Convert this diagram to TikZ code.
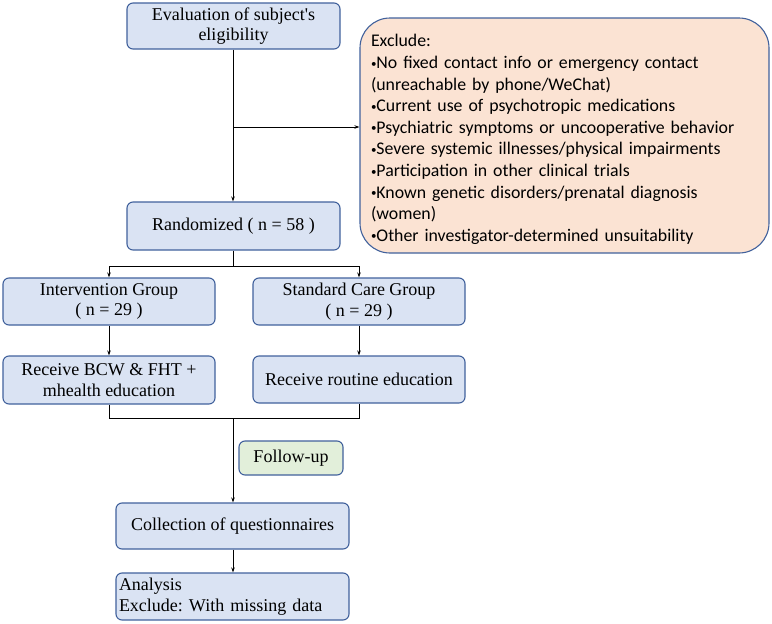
\documentclass[tikz,border=0pt]{standalone}
\usepackage{fontspec}
\setmainfont{Liberation Serif}
\newfontfamily\calfont{Carlito}
\usetikzlibrary{arrows.meta}
\definecolor{bluefill}{HTML}{DAE3F3}
\definecolor{bluedraw}{HTML}{41619C}
\definecolor{peach}{HTML}{FBE3D3}
\definecolor{greenfill}{HTML}{E2EFDA}
\newcommand{\bul}{{\fontsize{11}{11}\selectfont\raisebox{1.5pt}{•}}}
\frenchspacing
\tikzset{
  box/.style={draw=bluedraw, line width=1.1pt, fill=bluefill, rounded corners=6pt,
    inner sep=0pt, align=center, font=\fontsize{18}{20.5}\selectfont, text=black},
  arr/.style={line width=0.9pt, -{Stealth[length=5pt,width=3.5pt]}},
  ln/.style={line width=0.9pt},
}
\begin{document}
\begin{tikzpicture}[x=1pt,y=-1pt]
\useasboundingbox (0,0) rectangle (772,624);
\node[box, minimum width=213pt, minimum height=46pt] (eval) at (233.5,26) {Evaluation of subject\textquotesingle s\\eligibility};
\node[box, fill=peach, rounded corners=30pt, minimum width=409pt, minimum height=235pt] (excl) at (564.5,135.5) {};
\node[text width=392pt, align=left, inner sep=0pt, font=\calfont\fontsize{17.8}{21.6}\selectfont] (excltext) at (567,139.5)
  {\frenchspacing Exclude:\\
  \bul No fixed contact info or emergency contact\\
  (unreachable by phone/WeChat)\\
  \bul Current use of psychotropic medications\\
  \bul Psychiatric symptoms or uncooperative behavior\\
  \bul Severe systemic illnesses/physical impairments\\
  \bul Participation in other clinical trials\\
  \bul Known genetic disorders/prenatal diagnosis\\
  (women)\\
  \bul Other investigator-determined unsuitability};
\node[box, minimum width=213pt, minimum height=48pt] (rand) at (233.5,226) {Randomized ( n = 58 )};
\node[box, minimum width=212pt, minimum height=47pt] (int) at (109,301.5) {Intervention Group\\( n = 29 )};
\node[box, minimum width=212pt, minimum height=47pt] (std) at (359,301.5) {Standard Care Group\\( n = 29 )};
\node[box, minimum width=212pt, minimum height=48pt] (bcw) at (109,380) {Receive BCW \& FHT +\\mhealth education};
\node[box, minimum width=212pt, minimum height=47pt] (rout) at (359,379.5) {Receive routine education};
\node[box, fill=greenfill, minimum width=104pt, minimum height=34pt] (fu) at (291,458) {Follow-up};
\node[box, minimum width=233pt, minimum height=46pt] (coll) at (232.5,526) {Collection of questionnaires};
\node[box, minimum width=233pt, minimum height=47pt, text width=227pt, align=left] (ana) at (232.5,596.5) {\frenchspacing Analysis\\Exclude: With missing data};

\coordinate (b1) at (233,127);
\coordinate (b2) at (233,266);
\coordinate (b3) at (233,418);
\draw[arr] (eval.south -| b1) -- (rand.north -| b1);
\draw[arr] (b1) -- (b1 -| excl.west);
\draw[ln] (rand.south -| b2) -- (b2);
\draw[arr] (b2) -| (int.north);
\draw[arr] (b2) -| (std.north);
\draw[arr] (int) -- (bcw);
\draw[arr] (std) -- (rout);
\draw[ln] (bcw.south) |- (b3);
\draw[ln] (rout.south) |- (b3);
\draw[arr] (b3) -- (coll.north -| b3);
\draw[arr] (coll.south -| b3) -- (ana.north -| b3);
\end{tikzpicture}
\end{document}
